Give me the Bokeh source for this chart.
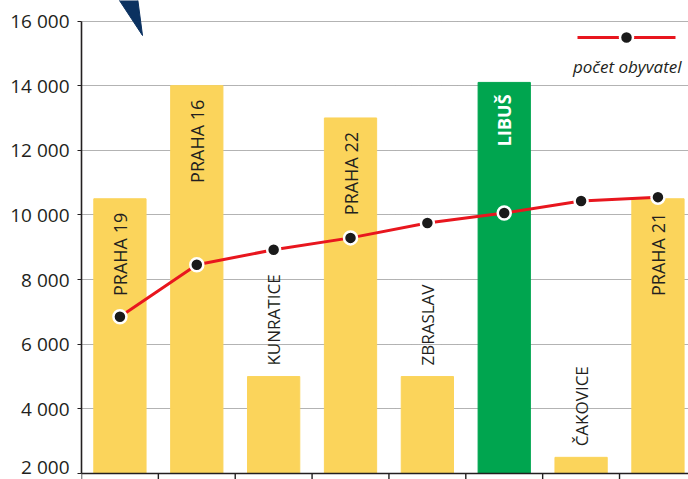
import math
from bokeh.plotting import figure
from bokeh.models import Range1d, FixedTicker, ColumnDataSource, Span
from bokeh.core.properties import value
from bokeh.embed import file_html
from bokeh.resources import INLINE

# --- data ---
categories = ["PRAHA 19", "PRAHA 16", "KUNRATICE", "PRAHA 22", "ZBRASLAV", "LIBUŠ", "ČAKOVICE", "PRAHA 21"]
bar_values = [10500, 14000, 5000, 13000, 5000, 14100, 2500, 10500]
population = [6850, 8460, 8920, 9290, 9750, 10060, 10430, 10550]
highlight = "LIBUŠ"
y_ticks = [2000, 4000, 6000, 8000, 10000, 12000, 14000, 16000]
y_tick_labels = ["2 000", "4 000", "6 000", "8 000", "10 000", "12 000", "14 000", "16 000"]
legend_label = "počet obyvatel"

YELLOW = "#fbd45b"
GREEN = "#00a54f"
RED = "#e8161e"
DARK = "#231f20"
NAVY = "#0b3160"
FONT = "Open Sans"

W, H = 688, 479
FRAME_L = 81
CAT_PX = 76.86
Y_TOP_PX, Y_BOT_PX = 20.5, 473.0
ymin, ymax = y_ticks[0], y_ticks[-1]
per_px = (ymax - ymin) / (Y_BOT_PX - Y_TOP_PX)
y_start = ymin - (H - Y_BOT_PX) * per_px
y_end = ymax + Y_TOP_PX * per_px
x_end = (W - FRAME_L) / CAT_PX

def px_x(px):
    return (px - FRAME_L) / CAT_PX

def px_y(py):
    return ymax - (py - Y_TOP_PX) * per_px

p = figure(width=W, height=H, output_backend="svg", toolbar_location=None,
           x_range=Range1d(0, x_end), y_range=Range1d(y_start, y_end),
           min_border_left=FRAME_L, min_border_right=0, min_border_top=0, min_border_bottom=0)
p.outline_line_color = None
p.background_fill_color = "white"
p.border_fill_color = "white"
p.xaxis.visible = False
p.xgrid.visible = False

ya = p.yaxis[0]
ya.ticker = FixedTicker(ticks=y_ticks)
ya.major_label_overrides = {t: l for t, l in zip(y_ticks, y_tick_labels)}
ya.bounds = (ymin, ymax)
ya.axis_line_color = DARK
ya.axis_line_width = 1.6
ya.major_tick_line_color = DARK
ya.major_tick_out = 4
ya.major_tick_in = 0
ya.minor_tick_line_color = None
ya.major_label_standoff = 8
ya.major_label_text_font = FONT
ya.major_label_text_font_size = "19px"
ya.major_label_text_color = DARK

p.ygrid.grid_line_color = "#666666"
p.ygrid.grid_line_dash = "1 1"
p.ygrid.grid_line_width = 1

xs = [i + 0.5 for i in range(len(categories))]
colors = [GREEN if c == highlight else YELLOW for c in categories]
src = ColumnDataSource(dict(x=xs, top=bar_values, color=colors, cat=categories, pop=population))
p.vbar(x="x", top="top", bottom=ymin, width=0.68, color="color", source=src)

# bottom axis line and ticks
p.add_layout(Span(location=ymin, dimension="width", line_color=DARK, line_width=1.6))
bx = list(range(len(categories) + 1))
p.segment(x0=bx, y0=[ymin] * len(bx), x1=bx, y1=[y_start] * len(bx), line_color=DARK, line_width=1.4)

# category labels
inside = [i for i, v in enumerate(bar_values) if v > 8000 and categories[i] != highlight]
hl = [i for i, c in enumerate(categories) if c == highlight]
outside = [i for i, v in enumerate(bar_values) if v <= 8000]
p.text(x=[xs[i] for i in inside], y=[bar_values[i] for i in inside], text=[categories[i] for i in inside],
       angle=math.pi / 2, text_align="right", text_baseline="middle", y_offset=14,
       text_font=value(FONT), text_font_size="18px", text_color=DARK)
p.text(x=[xs[i] for i in hl], y=[bar_values[i] for i in hl], text=[categories[i] for i in hl],
       angle=math.pi / 2, text_align="right", text_baseline="middle", y_offset=12,
       text_font=value(FONT), text_font_size="18px", text_font_style="bold", text_color="white")
p.text(x=[xs[i] for i in outside], y=[bar_values[i] for i in outside], text=[categories[i] for i in outside],
       angle=math.pi / 2, text_align="left", text_baseline="middle", y_offset=-11,
       text_font=value(FONT), text_font_size="17px", text_color=DARK)

# population line
p.line(x="x", y="pop", source=src, line_color=RED, line_width=3)
p.scatter(x="x", y="pop", source=src, size=13, fill_color="#1a1a1a", line_color="white", line_width=2.5)

# legend (custom)
ly = px_y(37)
p.line(x=[px_x(577), px_x(675)], y=[ly, ly], line_color=RED, line_width=3)
p.scatter(x=[px_x(626)], y=[ly], size=13, fill_color="#1a1a1a", line_color="white", line_width=2.5)
p.text(x=[px_x(681)], y=[px_y(66)], text=[legend_label], text_align="right", text_baseline="middle",
       text_font=value(FONT), text_font_size="17px", text_font_style="italic", text_color=DARK)

# decorative navy wedge at top
p.patch(x=[px_x(117), px_x(137), px_x(142)], y=[px_y(-3), px_y(-3), px_y(35)], color=NAVY)

open("out.html", "w").write(file_html(p, INLINE))
